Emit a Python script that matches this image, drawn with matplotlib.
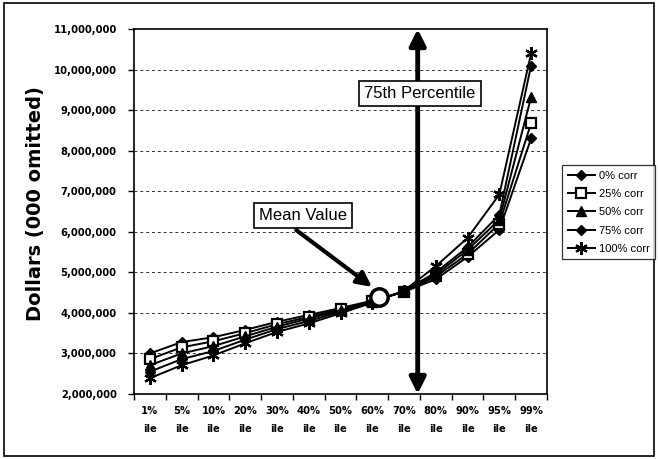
import matplotlib
matplotlib.use("Agg")
import matplotlib.pyplot as plt
from matplotlib.patches import Rectangle
from matplotlib.ticker import FuncFormatter, FixedLocator

plt.rcParams['font.family'] = ['Liberation Sans', 'DejaVu Sans']

categories = ['1%', '5%', '10%', '20%', '30%', '40%', '50%', '60%', '70%', '80%', '90%', '95%', '99%']

corr_0 = [3.00, 3.28, 3.40, 3.58, 3.78, 3.95, 4.12, 4.30, 4.52, 4.83, 5.38, 6.05, 8.30]
corr_25 = [2.86, 3.15, 3.30, 3.50, 3.72, 3.90, 4.09, 4.29, 4.52, 4.90, 5.45, 6.20, 8.68]
corr_50 = [2.71, 3.00, 3.18, 3.42, 3.66, 3.86, 4.06, 4.28, 4.53, 4.95, 5.55, 6.30, 9.32]
corr_75 = [2.55, 2.86, 3.06, 3.34, 3.60, 3.80, 4.03, 4.27, 4.54, 5.00, 5.62, 6.42, 10.10]
corr_100 = [2.39, 2.71, 2.95, 3.25, 3.53, 3.74, 3.99, 4.25, 4.55, 5.15, 5.85, 6.92, 10.40]

series_labels = ['0% corr', '25% corr', '50% corr', '75% corr', '100% corr']

mean_pos = 7.21
mean_value = 4.39
pct75_pos = 8.43

W, H = 658, 459
fig = plt.figure(figsize=(W / 100, H / 100), dpi=100)
ax = fig.add_axes([134 / W, 1 - 394 / H, (547 - 134) / W, (394 - 29) / H])

x = list(range(len(categories)))
M = 1e6
styles = [
    dict(marker='D', markersize=5.5, markerfacecolor='black'),
    dict(marker='s', markersize=6.5, markerfacecolor='white', markeredgewidth=1.6),
    dict(marker='^', markersize=6.5, markerfacecolor='black'),
    dict(marker='D', markersize=5.5, markerfacecolor='black'),
    dict(marker=(6, 2, 0), markersize=9, markeredgewidth=1.6),
]
handles = []
for vals, lab, st in zip([corr_0, corr_25, corr_50, corr_75, corr_100], series_labels, styles):
    h, = ax.plot(x, [v * M for v in vals], color='black', lw=1.4,
                 markeredgecolor='black', label=lab, zorder=3, **st)
    handles.append(h)

ax.set_xlim(-0.5, len(categories) - 0.5)
ax.set_ylim(2 * M, 11 * M)
ax.set_yticks([v * M for v in range(2, 12)])
ax.yaxis.set_major_formatter(FuncFormatter(lambda v, p: f"{int(round(v)):,}"))
ax.set_xticks(x)
ax.set_xticklabels([c + '\nile' for c in categories])
ax.xaxis.set_minor_locator(FixedLocator([i - 0.5 for i in range(len(categories) + 1)]))
ax.tick_params(axis='x', which='major', length=0, pad=8.5)
ax.tick_params(axis='x', which='minor', length=4, width=1, direction='out')
ax.tick_params(axis='y', which='major', length=4, width=1, direction='out', pad=8.5)
for lbl in ax.get_xticklabels() + ax.get_yticklabels():
    lbl.set_family('DejaVu Sans')
    lbl.set_fontsize(7.2)
    lbl.set_fontweight('bold')
for lbl in ax.get_xticklabels():
    lbl.set_linespacing(2.0)

for v in range(3, 11):
    ax.axhline(v * M, color='#333333', lw=0.7, ls=(0, (3, 3)), zorder=1)

for s in ax.spines.values():
    s.set_linewidth(1.2)

# Mean value marker and its callout
ax.plot([mean_pos], [mean_value * M], marker='o', markersize=12.5, markerfacecolor='white',
        markeredgecolor='black', markeredgewidth=2.5, zorder=5)
ax.annotate('', xy=(6.99, 4.64 * M), xytext=(4.61, 6.04 * M),
            arrowprops=dict(arrowstyle='-|>', lw=3, color='black', mutation_scale=22,
                            shrinkA=0, shrinkB=0), zorder=6)
ax.text(4.83, 6.41 * M, 'Mean Value', fontsize=12, ha='center', va='center', zorder=7,
        bbox=dict(boxstyle='square,pad=0.3', facecolor='white', edgecolor='black', lw=1.2))

# 75th percentile marker
ax.annotate('', xy=(pct75_pos, 11 * M), xytext=(pct75_pos, 2 * M),
            arrowprops=dict(arrowstyle='<|-|>', lw=3.5, color='black', mutation_scale=24,
                            shrinkA=0, shrinkB=0), zorder=6, annotation_clip=False)
ax.text(8.5, 9.41 * M, '75th Percentile', fontsize=12, ha='center', va='center', zorder=7,
        bbox=dict(boxstyle='square,pad=0.3', facecolor='white', edgecolor='black', lw=1.2))

fig.text(36 / W, 1 - 204 / H, 'Dollars (000 omitted)', rotation=90, ha='center', va='center',
         fontsize=14, fontweight='bold', family='DejaVu Sans')

leg = fig.legend(handles=handles, loc='upper left', bbox_to_anchor=(562 / W, 1 - 165 / H),
                 fontsize=8, frameon=True, fancybox=False, edgecolor='black',
                 handlelength=2.5, borderpad=0.5, labelspacing=0.75, handletextpad=0.3,
                 borderaxespad=0)
leg.get_frame().set_linewidth(0.9)

fig.add_artist(Rectangle((4 / W, 1 - 456 / H), (654 - 4) / W, (456 - 3) / H,
                         transform=fig.transFigure, fill=False, edgecolor='black', lw=1.2))

fig.savefig('out.png', dpi=100)
